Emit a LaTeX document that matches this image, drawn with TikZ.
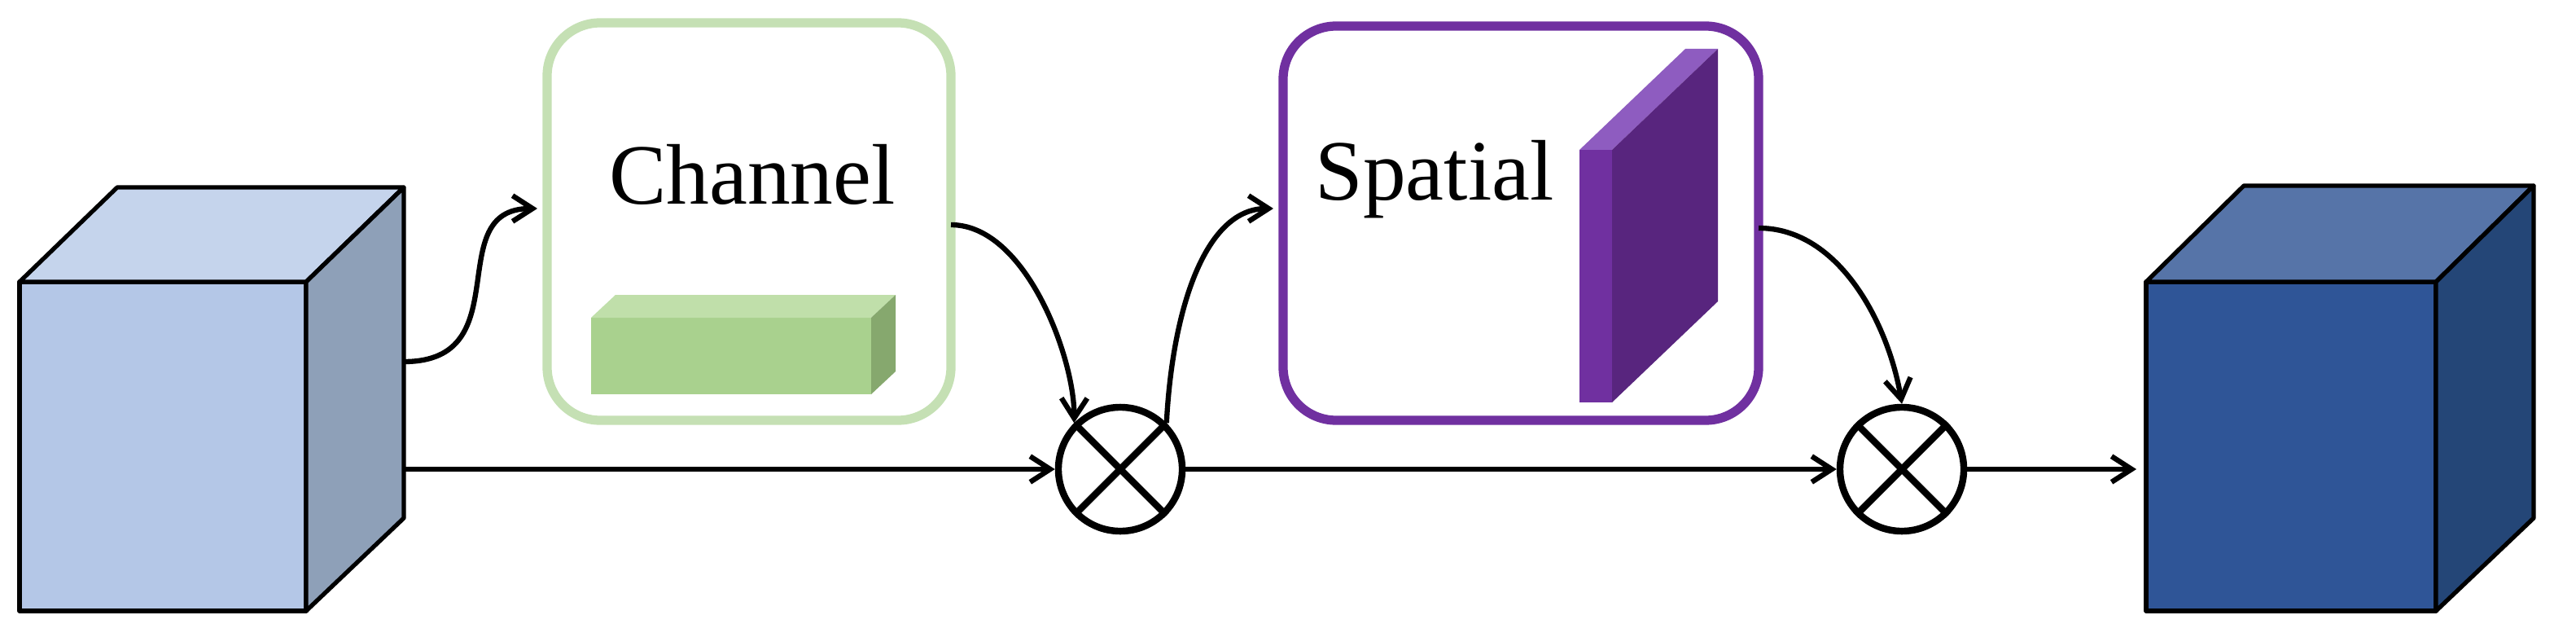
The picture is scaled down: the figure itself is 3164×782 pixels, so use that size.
\documentclass[tikz,border=0pt]{standalone}
\usepackage{fontspec}
\setmainfont{Liberation Serif}
\usetikzlibrary{arrows.meta}
\begin{document}
\begin{tikzpicture}[x=0.01cm,y=-0.01cm,
  conn/.style={line width=1.8pt,-{Straight Barb[length=7pt,width=9pt,line width=1.8pt]}},
  face/.style={draw=black,line width=1.5pt,line join=round},
  box/.style={rounded corners=0.65cm,line width=3.2pt,fill=white},
  ot/.style={circle,draw=black,line width=2.4pt,inner sep=0pt}]
\useasboundingbox (0,0) rectangle (3164,782);
\definecolor{lf}{HTML}{B4C7E7}\definecolor{lt}{HTML}{C5D4EC}\definecolor{ls}{HTML}{8EA0B8}
\definecolor{rf}{HTML}{2F5597}\definecolor{rt}{HTML}{5674A8}\definecolor{rs}{HTML}{244677}
\definecolor{gb}{HTML}{C5E0B4}\definecolor{gf}{HTML}{A9D18E}\definecolor{gt}{HTML}{C0DFAA}\definecolor{gs}{HTML}{86A86E}
\definecolor{pb}{HTML}{7030A0}\definecolor{pf}{HTML}{7030A0}\definecolor{pt}{HTML}{8E5CC0}\definecolor{ps}{HTML}{58257E}
% left cube
\fill[lf,face] (24,346) rectangle (376,750);
\fill[lt,face] (24,346) -- (144,230) -- (496,230) -- (376,346) -- cycle;
\fill[ls,face] (376,346) -- (496,230) -- (496,636) -- (376,750) -- cycle;
\coordinate (lc1) at (496,444);
\coordinate (lc2) at (496,576);
% right cube
\fill[rf,face] (2636,346) rectangle (2992,750);
\fill[rt,face] (2636,346) -- (2756,228) -- (3112,228) -- (2992,346) -- cycle;
\fill[rs,face] (2992,346) -- (3112,228) -- (3112,636) -- (2992,750) -- cycle;
\coordinate (rc) at (2624,576);
% channel box
\draw[box,draw=gb] (672,28) rectangle (1168,516);
\node[font=\fontsize{30}{32}\selectfont] (ch) at (924,214) {Channel};
\fill[gf] (726,390) rectangle (1070,484);
\fill[gt] (726,390) -- (756,362) -- (1100,362) -- (1070,390) -- cycle;
\fill[gs] (1070,390) -- (1100,362) -- (1100,456) -- (1070,484) -- cycle;
\coordinate (cin) at (660,256);
\coordinate (cout) at (1168,276);
% spatial box
\draw[box,draw=pb] (1576,32) rectangle (2160,516);
\node[font=\fontsize{30}{32}\selectfont] (sp) at (1762,220) {Spatial};
\fill[pf] (1940,184) rectangle (1980,494);
\fill[pt] (1940,184) -- (2070,60) -- (2110,60) -- (1980,184) -- cycle;
\fill[ps] (1980,184) -- (2110,60) -- (2110,370) -- (1980,494) -- cycle;
\coordinate (sin) at (1564,256);
\coordinate (sout) at (2160,280);
% otimes
\node[ot,minimum size=1.52cm] (o1) at (1376,576) {};
\node[ot,minimum size=1.52cm] (o2) at (2336,576) {};
\foreach \o in {o1,o2}{\draw[line width=2.4pt] (\o.north west) -- (\o.south east) (\o.north east) -- (\o.south west);}
% connectors
\draw[conn] (lc1) .. controls (640,444) and (540,256) .. (cin);
\draw[conn] (lc2) -- (o1.west);
\draw[conn] (cout) .. controls (1260,276) and (1320,440) .. (o1.north west);
\draw[conn] (o1.north east) .. controls (1440,380) and (1480,256) .. (sin);
\draw[conn] (sout) .. controls (2260,280) and (2320,400) .. (o2.north);
\draw[conn] (o1.east) -- (o2.west);
\draw[conn] (o2.east) -- (rc);
\end{tikzpicture}
\end{document}
